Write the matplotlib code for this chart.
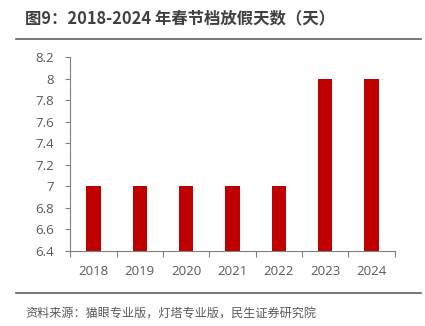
import matplotlib
matplotlib.use("Agg")
import matplotlib.pyplot as plt
from matplotlib.lines import Line2D

plt.rcParams['font.family'] = ['Noto Sans CJK SC', 'DejaVu Sans']

years = ["2018", "2019", "2020", "2021", "2022", "2023", "2024"]
holiday_days = [7, 7, 7, 7, 7, 8, 8]
y_ticks = [6.4, 6.6, 6.8, 7.0, 7.2, 7.4, 7.6, 7.8, 8.0, 8.2]
y_labels = ["6.4", "6.6", "6.8", "7", "7.2", "7.4", "7.6", "7.8", "8", "8.2"]

title = "图9：2018-2024 年春节档放假天数（天）"
source = "资料来源：猫眼专业版，灯塔专业版，民生证券研究院"

bar_color = "#C00000"
text_color = "#595959"
axis_color = "#808080"

fig = plt.figure(figsize=(4.25, 3.26), dpi=100)
ax = fig.add_axes([0.165, 0.230, 0.764, 0.595])

x = list(range(len(years)))
ax.bar(x, holiday_days, width=0.31, color=bar_color, zorder=2)

ax.set_xlim(-0.5, len(years) - 0.5)
ax.set_ylim(6.4, 8.2)
ax.set_yticks(y_ticks)
ax.set_yticklabels(y_labels, family="Open Sans")
ax.set_xticks(x)
ax.set_xticklabels(years, family="Open Sans")
ax.set_xticks([i - 0.5 for i in range(len(years) + 1)], minor=True)

for side in ("top", "right"):
    ax.spines[side].set_visible(False)
for side in ("left", "bottom"):
    ax.spines[side].set_color(axis_color)
    ax.spines[side].set_linewidth(0.8)

ax.tick_params(axis="y", direction="out", length=3.5, width=0.8, color=axis_color,
               labelsize=9.5, labelcolor=text_color, pad=8)
ax.tick_params(axis="x", which="major", length=0, labelsize=9.5,
               labelcolor=text_color, pad=10)
ax.tick_params(axis="x", which="minor", direction="out", length=4, width=0.8,
               color=axis_color)

fig.text(0.059, 0.945, title, fontsize=11.8, fontweight="bold", color="#404040",
         ha="left", va="center")
fig.add_artist(Line2D([0.038, 0.99], [0.881, 0.881], transform=fig.transFigure,
                      color="#606060", linewidth=1.2))
fig.add_artist(Line2D([0.038, 0.99], [0.101, 0.101], transform=fig.transFigure,
                      color="#606060", linewidth=1.2))
fig.text(0.059, 0.036, source, fontsize=8.7, color=text_color,
         ha="left", va="center")

fig.savefig("out.png", dpi=100)
